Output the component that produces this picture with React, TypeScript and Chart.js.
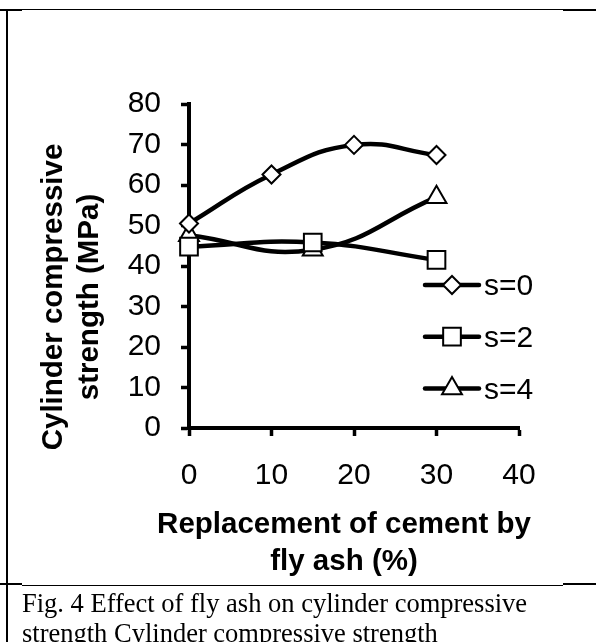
import React, { useEffect, useRef } from 'react';
import { Chart, registerables } from 'chart.js';
import { drawPoint } from 'chart.js/helpers';

Chart.register(...registerables);

// ---- data ----
const seriesLabels = ['s=0', 's=2', 's=4'];
const xS0 = [0, 10, 20, 30];
const yS0 = [50.5, 62.6, 69.9, 67.4];
const xS2 = [0, 15, 30];
const yS2 = [44.8, 45.8, 41.5];
const xS4 = [0, 15, 30];
const yS4 = [47.6, 44.0, 57.0];
const xTickValues = [0, 10, 20, 30, 40];
const yTickValues = [0, 10, 20, 30, 40, 50, 60, 70, 80];
const xTitleLines = ['Replacement of cement by', 'fly ash (%)'];
const yTitleLines = ['Cylinder compressive', 'strength (MPa)'];
const captionLines = ['Fig. 4 Effect of fly ash on cylinder compressive', 'strength Cylinder compressive strength'];

const SANS = '"Liberation Sans", Arial, sans-serif';

const toPoints = (xs: number[], ys: number[]) => xs.map((x, i) => ({ x, y: ys[i] }));

const titlesPlugin = {
  id: 'axisTitles',
  afterDraw(chart: any) {
    const { ctx } = chart;
    const { left, bottom, top } = chart.chartArea;
    ctx.save();
    ctx.fillStyle = '#000';
    ctx.font = `bold 29.5px ${SANS}`;
    ctx.textAlign = 'center';
    ctx.textBaseline = 'middle';
    xTitleLines.forEach((t, i) => ctx.fillText(t, left + 155, bottom + 97 + i * 37));
    ctx.translate(left - 135, top + 193);
    ctx.rotate(-Math.PI / 2);
    yTitleLines.forEach((t, i) => ctx.fillText(t, 0, i * 36));
    ctx.restore();
  },
};

const legendPlugin = {
  id: 'lineLegend',
  afterDatasetsDraw(chart: any) {
    const { ctx } = chart;
    const { left, top } = chart.chartArea;
    ctx.save();
    chart.data.datasets.forEach((ds: any, i: number) => {
      const y = top + 181 + i * 51.7;
      const x0 = left + 236;
      const x1 = left + 290;
      ctx.strokeStyle = ds.borderColor;
      ctx.lineWidth = ds.borderWidth;
      ctx.lineCap = 'round';
      ctx.beginPath();
      ctx.moveTo(x0, y);
      ctx.lineTo(x1, y);
      ctx.stroke();
      ctx.fillStyle = ds.pointBackgroundColor;
      ctx.strokeStyle = ds.pointBorderColor;
      ctx.lineWidth = ds.pointBorderWidth;
      drawPoint(ctx, { pointStyle: ds.pointStyle, radius: ds.pointRadius, borderWidth: ds.pointBorderWidth, rotation: 0 }, (x0 + x1) / 2, y);
      ctx.fillStyle = '#000';
      ctx.font = `30px ${SANS}`;
      ctx.textAlign = 'left';
      ctx.textBaseline = 'middle';
      ctx.fillText(ds.label, x1 + 5, y + 2);
    });
    ctx.restore();
  },
};

function ChartCanvas() {
  const ref = useRef<HTMLCanvasElement | null>(null);
  useEffect(() => {
    if (!ref.current) return;
    const common = {
      borderColor: '#000',
      borderWidth: 4.5,
      pointBackgroundColor: '#fff',
      pointBorderColor: '#000',
      pointBorderWidth: 2,
      fill: false,
      tension: 0.45,
      showLine: true,
      clip: false as any,
    };
    const chart = new Chart(ref.current, {
      type: 'line',
      data: {
        datasets: [
          { ...common, label: seriesLabels[0], data: toPoints(xS0, yS0), pointStyle: 'rectRot', pointRadius: 9, pointHoverRadius: 9 },
          { ...common, label: seriesLabels[1], data: toPoints(xS2, yS2), pointStyle: 'rect', pointRadius: 12.5, pointHoverRadius: 12.5 },
          { ...common, label: seriesLabels[2], data: toPoints(xS4, yS4), pointStyle: 'triangle', pointRadius: 11.5, pointHoverRadius: 11.5 },
        ],
      },
      options: {
        animation: false,
        responsive: false,
        events: [],
        layout: { padding: { top: 104, right: 77, bottom: 134, left: 0 } },
        plugins: { legend: { display: false }, tooltip: { enabled: false }, title: { display: false } },
        scales: {
          x: {
            type: 'linear',
            min: 0,
            max: 40,
            afterFit: (s: any) => { s.height = 80; },
            afterBuildTicks: (s: any) => { s.ticks = xTickValues.map((v) => ({ value: v })); },
            ticks: { color: '#000', font: { family: SANS, size: 30 }, padding: 22, maxRotation: 0 },
            grid: { drawOnChartArea: false, drawTicks: true, tickLength: 8, tickWidth: 3.5, tickColor: '#000' },
            border: { display: true, color: '#000', width: 4 },
          },
          y: {
            type: 'linear',
            min: 0,
            max: 80,
            afterFit: (s: any) => { s.width = 189; },
            afterBuildTicks: (s: any) => { s.ticks = yTickValues.map((v) => ({ value: v })); },
            ticks: { color: '#000', font: { family: SANS, size: 30 }, padding: 20 },
            grid: { drawOnChartArea: false, drawTicks: true, tickLength: 8, tickWidth: 3.5, tickColor: '#000' },
            border: { display: true, color: '#000', width: 4 },
          },
        },
      } as any,
      plugins: [titlesPlugin, legendPlugin],
    });
    return () => chart.destroy();
  }, []);
  return <canvas ref={ref} width={596} height={642} style={{ position: 'absolute', left: 0, top: 0 }} />;
}

const bar = (left: number, top: number, width: number, height: number) => (
  <div style={{ position: 'absolute', left, top, width, height, background: '#000' }} />
);

export default function App() {
  return (
    <div style={{ position: 'absolute', left: 0, top: 0, width: 596, height: 642, overflow: 'hidden', background: '#fff' }}>
      {bar(6, 9, 2, 633)}
      {bar(0, 9, 22, 2)}
      {bar(22, 9, 541, 1)}
      {bar(563, 9, 33, 2)}
      {bar(0, 583, 22, 2)}
      {bar(22, 585, 541, 1)}
      {bar(563, 583, 33, 2)}
      <ChartCanvas />
      <div
        style={{
          position: 'absolute',
          left: 22,
          top: 588,
          fontFamily: '"Liberation Serif", "Times New Roman", serif',
          fontSize: 26.5,
          lineHeight: '30px',
          whiteSpace: 'nowrap',
          color: '#000',
        }}
      >
        {captionLines.map((l, i) => (
          <div key={i}>{l}</div>
        ))}
      </div>
    </div>
  );
}
